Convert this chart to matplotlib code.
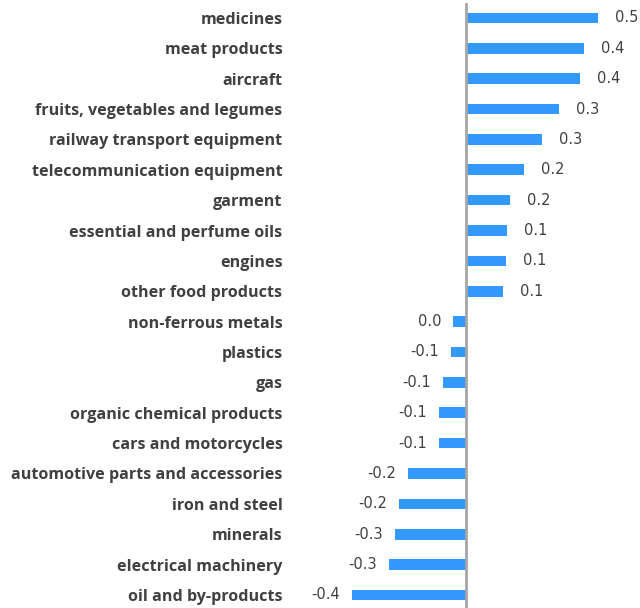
import matplotlib
matplotlib.use("Agg")
import matplotlib.pyplot as plt

categories = [
    "medicines", "meat products", "aircraft", "fruits, vegetables and legumes",
    "railway transport equipment", "telecommunication equipment", "garment",
    "essential and perfume oils", "engines", "other food products",
    "non-ferrous metals", "plastics", "gas", "organic chemical products",
    "cars and motorcycles", "automotive parts and accessories", "iron and steel",
    "minerals", "electrical machinery", "oil and by-products",
]
values = [
    0.468, 0.418, 0.404, 0.332, 0.271, 0.204, 0.154, 0.146, 0.143, 0.132,
    -0.046, -0.054, -0.082, -0.096, -0.096, -0.207, -0.239, -0.254, -0.275, -0.407,
]

bar_color = "#3399FF"
text_color = "#404040"

fig = plt.figure(figsize=(6.4, 6.08), dpi=100)
ax = fig.add_axes([0.45, 0.0, 0.535, 0.995])

y = list(range(len(categories)))
ax.barh(y, values, height=0.35, color=bar_color)
ax.axvline(0, color="#A6A6A6", linewidth=2.0)

ax.set_xlim(-0.636, 0.585)
ax.set_ylim(19.43, -0.49)

# value labels just outside the bar ends
for yi, v in zip(y, values):
    txt = f"{v:.1f}"
    if txt == "-0.0":
        txt = "0.0"
    if v >= 0:
        ax.annotate(txt, (v, yi), xytext=(17, 0), textcoords="offset pixels",
                    ha="left", va="center", fontsize=10.5, color=text_color,
                    family="DejaVu Sans")
    else:
        ax.annotate(txt, (v, yi), xytext=(-12, 0), textcoords="offset pixels",
                    ha="right", va="center", fontsize=10.5, color=text_color,
                    family="DejaVu Sans")

ax.set_yticks(y)
ax.set_yticklabels(categories, fontsize=11.6, fontweight="bold", color=text_color,
                   family="Open Sans")
ax.tick_params(axis="y", length=0, pad=4)
ax.set_xticks([])
for s in ax.spines.values():
    s.set_visible(False)

fig.savefig("out.png", dpi=100)
